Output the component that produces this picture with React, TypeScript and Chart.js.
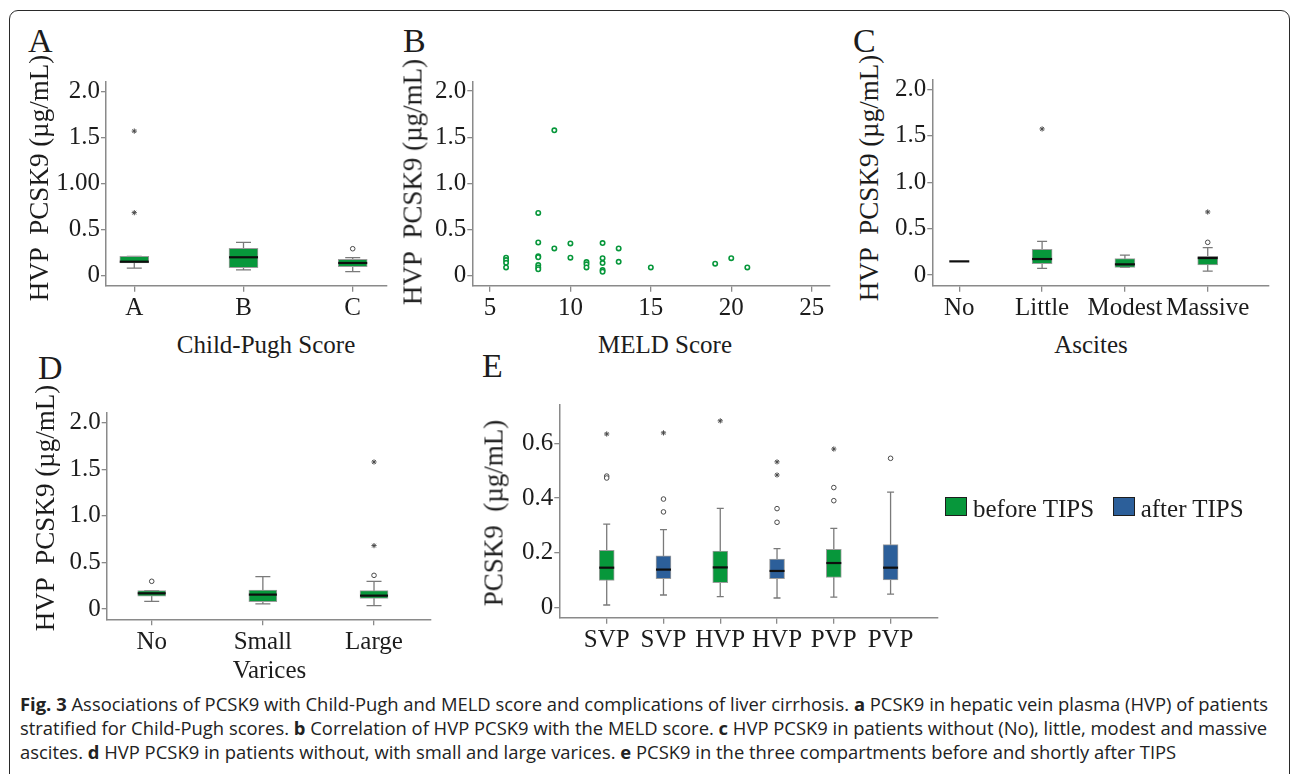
import React, { useEffect, useLayoutEffect, useRef, useState } from 'react';
import { Chart, registerables } from 'chart.js';
Chart.register(...registerables);

// ---------------- data ----------------
// Panel A: Child-Pugh score
const aCats = ['A', 'B', 'C'];
const aQ1 = [0.138, 0.087, 0.098];
const aMed = [0.152, 0.2, 0.138];
const aQ3 = [0.21, 0.297, 0.178];
const aLo = [0.083, 0.062, 0.043];
const aHi = [0.21, 0.362, 0.196];
const aCircles = [[3, 0.293]];
const aStars = [[1, 1.572], [1, 0.685]];
const aYTicks = [0, 0.5, 1, 1.5, 2];
const aYLabels = ['0', '0.5', '1.00', '1.5', '2.0'];

// Panel B: MELD score scatter
const bMeld = [6, 6, 6, 6, 8, 8, 8, 8, 8, 8, 8, 9, 9, 10, 10, 11, 11, 11, 12, 12, 12, 12, 12, 13, 13, 15, 19, 20, 21];
const bPcsk9 = [0.195, 0.17, 0.14, 0.09, 0.68, 0.36, 0.21, 0.2, 0.115, 0.09, 0.07, 1.574, 0.296, 0.35, 0.195, 0.148, 0.123, 0.09, 0.354, 0.19, 0.137, 0.061, 0.043, 0.296, 0.15, 0.09, 0.13, 0.19, 0.09];
const bXTicks = [5, 10, 15, 20, 25];
const bXLabels = ['5', '10', '15', '20', '25'];
const hvpYTicks = [0, 0.5, 1, 1.5, 2];
const hvpYLabels = ['0', '0.5', '1.0', '1.5', '2.0'];

// Panel C: Ascites
const cCats = ['No', 'Little', 'Modest', 'Massive'];
const cQ1 = [0.147, 0.122, 0.083, 0.108];
const cMed = [0.147, 0.172, 0.115, 0.183];
const cQ3 = [0.147, 0.276, 0.176, 0.201];
const cLo = [0.147, 0.072, 0.083, 0.043];
const cHi = [0.147, 0.363, 0.215, 0.294];
const cCircles = [[4, 0.352]];
const cStars = [[2, 1.573], [4, 0.679]];

// Panel D: Varices
const dCats = ['No', 'Small', 'Large'];
const dQ1 = [0.136, 0.079, 0.114];
const dMed = [0.168, 0.154, 0.143];
const dQ3 = [0.197, 0.204, 0.197];
const dLo = [0.082, 0.054, 0.036];
const dHi = [0.197, 0.347, 0.297];
const dCircles = [[1, 0.297], [3, 0.361]];
const dStars = [[3, 0.68], [3, 1.578]];

// Panel E: compartments before / after TIPS
const eCats = ['SVP', 'SVP', 'HVP', 'HVP', 'PVP', 'PVP'];
const eGroup = [0, 1, 0, 1, 0, 1];
const eQ1 = [0.098, 0.105, 0.09, 0.105, 0.109, 0.1];
const eMed = [0.145, 0.138, 0.146, 0.133, 0.162, 0.145];
const eQ3 = [0.2085, 0.188, 0.206, 0.176, 0.212, 0.229];
const eLo = [0.0085, 0.045, 0.039, 0.034, 0.037, 0.048];
const eHi = [0.304, 0.284, 0.362, 0.215, 0.289, 0.421];
const eCircles = [[1, 0.48], [1, 0.473], [2, 0.396], [2, 0.349], [4, 0.311], [4, 0.361], [5, 0.39], [5, 0.438], [6, 0.545]];
const eStars = [[1, 0.634], [2, 0.638], [3, 0.682], [4, 0.484], [4, 0.532], [5, 0.579]];
const eYTicks = [0, 0.2, 0.4, 0.6];
const eYLabels = ['0', '0.2', '0.4', '0.6'];
const legendLabels = ['before TIPS', 'after TIPS'];

// ---------------- styles ----------------
const SERIF = "'Liberation Serif', 'Times New Roman', Times, serif";
const SANS = "'Open Sans', 'Noto Sans', 'Liberation Sans', sans-serif";
const GREEN = '#07973B';
const BLUE = '#2C5F9A';
const GROUP_COLORS = [GREEN, BLUE];
const AXIS = '#8A8A8A';
const BOX_EDGE = '#9C9C9C';
const WHISKER = '#7A7A7A';
const OUT = '#4A4A4A';
const TEXT = '#1C1C1C';

type Geo = { canvas: number[]; area: number[] };
const GEO: Record<string, Geo> = {
  A: { canvas: [50, 60, 400, 330], area: [106, 81.7, 387, 285.7] },
  B: { canvas: [430, 60, 845, 330], area: [472.3, 81.7, 830, 285.7] },
  C: { canvas: [885, 58, 1285, 330], area: [932.3, 80, 1269, 285.7] },
  D: { canvas: [50, 390, 445, 660], area: [106.7, 412.7, 430.7, 619.3] },
  E: { canvas: [505, 383, 950, 660], area: [559.3, 405, 937.7, 617.7] },
};

const boxPlugin = {
  id: 'boxWhisker',
  beforeDatasetsDraw(chart: any) {
    const ctx = chart.ctx;
    const xs = chart.scales.x;
    const ys = chart.scales.y;
    chart.data.datasets.forEach((ds: any) => {
      if (!ds.stats) return;
      const { lo, hi, cap } = ds.stats;
      ctx.save();
      ctx.strokeStyle = WHISKER;
      ctx.lineWidth = 1.3;
      ds.data.forEach((pt: any, i: number) => {
        const x = xs.getPixelForValue(pt.x);
        const yl = ys.getPixelForValue(lo[i]);
        const yh = ys.getPixelForValue(hi[i]);
        if (Math.abs(yl - yh) < 0.5) return;
        ctx.beginPath();
        ctx.moveTo(x, yl);
        ctx.lineTo(x, yh);
        ctx.moveTo(x - cap / 2, yl);
        ctx.lineTo(x + cap / 2, yl);
        ctx.moveTo(x - cap / 2, yh);
        ctx.lineTo(x + cap / 2, yh);
        ctx.stroke();
      });
      ctx.restore();
    });
  },
  afterDatasetsDraw(chart: any) {
    const ctx = chart.ctx;
    const xs = chart.scales.x;
    const ys = chart.scales.y;
    chart.data.datasets.forEach((ds: any) => {
      if (!ds.stats) return;
      const { med, medW } = ds.stats;
      ctx.save();
      ctx.strokeStyle = '#0E0E0E';
      ctx.lineWidth = 2.2;
      ds.data.forEach((pt: any, i: number) => {
        const x = xs.getPixelForValue(pt.x);
        const y = ys.getPixelForValue(med[i]);
        ctx.beginPath();
        ctx.moveTo(x - medW / 2, y);
        ctx.lineTo(x + medW / 2, y);
        ctx.stroke();
      });
      ctx.restore();
    });
  },
};

function axis(min: number, max: number, ticks: number[], labels: string[], fit: number, isX: boolean) {
  return {
    type: 'linear',
    min,
    max,
    offset: false,
    afterBuildTicks: (s: any) => {
      s.ticks = ticks.map((v) => ({ value: v }));
    },
    afterFit: (s: any) => {
      if (isX) s.height = fit;
      else s.width = fit;
    },
    ticks: {
      autoSkip: false,
      maxRotation: 0,
      minRotation: 0,
      padding: isX ? 2 : 1,
      color: TEXT,
      font: { family: SERIF, size: 25 },
      callback: (_v: any, i: number) => labels[i],
    },
    grid: { drawOnChartArea: false, drawTicks: true, tickLength: isX ? 6 : 5, color: AXIS, lineWidth: 1.3, offset: false },
    border: { display: true, color: AXIS, width: 1.5 },
  };
}

function baseOptions(geo: Geo, xScale: any, yScale: any) {
  const [, ct, cr] = geo.canvas;
  const [, at, ar] = geo.area;
  return {
    responsive: false,
    animation: false,
    events: [],
    layout: { padding: { left: 0, top: at - ct, right: cr - ar, bottom: 0 } },
    plugins: { legend: { display: false }, tooltip: { enabled: false }, title: { display: false } },
    scales: { x: xScale, y: yScale },
  };
}

function outlierSets(circles: number[][], stars: number[][]) {
  return [
    {
      type: 'scatter',
      data: circles.map(([x, y]) => ({ x, y })),
      pointStyle: 'circle',
      pointRadius: 2.3,
      pointBorderWidth: 1,
      pointBorderColor: OUT,
      pointBackgroundColor: '#ffffff',
    },
    {
      type: 'scatter',
      data: stars.map(([x, y]) => ({ x, y })),
      pointStyle: 'star',
      pointRadius: 2.6,
      pointBorderWidth: 1,
      pointBorderColor: OUT,
      pointBackgroundColor: OUT,
    },
  ];
}

function boxConfig(p: any) {
  const geo: Geo = p.geo;
  const [cl, , , cb] = geo.canvas;
  const [al, , , ab] = geo.area;
  return {
    type: 'bar',
    data: {
      datasets: [
        {
          type: 'bar',
          data: p.cats.map((_c: string, i: number) => ({ x: i + 1, y: [p.q1[i], p.q3[i]] })),
          backgroundColor: p.colors,
          borderColor: BOX_EDGE,
          borderWidth: 1,
          borderSkipped: false,
          barThickness: p.barW,
          stats: { lo: p.lo, hi: p.hi, med: p.med, cap: p.capW, medW: p.barW },
        },
        ...outlierSets(p.circles, p.stars),
      ],
    },
    options: baseOptions(
      geo,
      axis(p.xMin, p.xMax, p.cats.map((_c: string, i: number) => i + 1), p.cats, cb - ab, true),
      axis(p.yMin, p.yMax, p.yTicks, p.yLabels, al - cl, false)
    ),
    plugins: [boxPlugin],
  };
}

function scatterConfig() {
  const geo = GEO.B;
  const [cl, , , cb] = geo.canvas;
  const [al, , , ab] = geo.area;
  return {
    type: 'scatter',
    data: {
      datasets: [
        {
          data: bMeld.map((x, i) => ({ x, y: bPcsk9[i] })),
          pointStyle: 'circle',
          pointRadius: 2.2,
          pointBorderWidth: 1.6,
          pointBorderColor: GREEN,
          pointBackgroundColor: '#ffffff',
        },
      ],
    },
    options: baseOptions(
      geo,
      axis(3.9, 26.14, bXTicks, bXLabels, cb - ab, true),
      axis(-0.108, 2.101, hvpYTicks, hvpYLabels, al - cl, false)
    ),
  };
}

function ChartCanvas({ geo, make }: { geo: Geo; make: () => any }) {
  const ref = useRef<HTMLCanvasElement | null>(null);
  useEffect(() => {
    if (!ref.current) return;
    const chart = new Chart(ref.current, make());
    return () => chart.destroy();
  }, []);
  const [l, t, r, b] = geo.canvas;
  return (
    <canvas
      ref={ref}
      width={r - l}
      height={b - t}
      style={{ position: 'absolute', left: l, top: t, width: r - l, height: b - t }}
    />
  );
}

function Label({ text, x, capTop, size, center }: { text: string; x: number; capTop: number; size: number; center?: boolean }) {
  return (
    <div
      style={{
        position: 'absolute',
        left: x,
        top: capTop - 0.1755 * size,
        fontFamily: SERIF,
        fontSize: size,
        lineHeight: `${size}px`,
        whiteSpace: 'pre',
        color: TEXT,
        transform: center ? 'translateX(-50%)' : undefined,
      }}
    >
      {text}
    </div>
  );
}

function VLabel({ text, cx, cy, size }: { text: string; cx: number; cy: number; size: number }) {
  return (
    <div
      style={{
        position: 'absolute',
        left: cx,
        top: cy,
        fontFamily: SERIF,
        fontSize: size,
        lineHeight: `${size}px`,
        whiteSpace: 'pre',
        color: TEXT,
        transform: 'translate(-50%, -50%) rotate(-90deg)',
      }}
    >
      {text}
    </div>
  );
}

const captionLines: { t: string; b?: boolean }[][] = [
  [
    { t: 'Fig. 3', b: true },
    { t: ' Associations of PCSK9 with Child-Pugh and MELD score and complications of liver cirrhosis. ' },
    { t: 'a', b: true },
    { t: ' PCSK9 in hepatic vein plasma (HVP) of patients' },
  ],
  [
    { t: 'stratified for Child-Pugh scores. ' },
    { t: 'b', b: true },
    { t: ' Correlation of HVP PCSK9 with the MELD score. ' },
    { t: 'c', b: true },
    { t: ' HVP PCSK9 in patients without (No), little, modest and massive' },
  ],
  [
    { t: 'ascites. ' },
    { t: 'd', b: true },
    { t: ' HVP PCSK9 in patients without, with small and large varices. ' },
    { t: 'e', b: true },
    { t: ' PCSK9 in the three compartments before and shortly after TIPS' },
  ],
];
const captionFirstLineWidth = 1248;

function Caption() {
  const ref = useRef<HTMLSpanElement | null>(null);
  const [scale, setScale] = useState(1);
  useLayoutEffect(() => {
    if (!ref.current) return;
    const w = ref.current.getBoundingClientRect().width;
    if (w > 0) setScale(captionFirstLineWidth / w);
  }, []);
  return (
    <>
      {captionLines.map((line, i) => (
        <div
          key={i}
          style={{
            position: 'absolute',
            left: 20,
            top: 692 + i * 24,
            height: 24,
            lineHeight: '24px',
            fontFamily: SANS,
            fontSize: 18,
            color: '#222',
            whiteSpace: 'pre',
            transform: `scaleX(${scale})`,
            transformOrigin: 'left top',
          }}
        >
          <span ref={i === 0 ? ref : undefined} style={{ display: 'inline-block' }}>
            {line.map((seg, j) => (
              <span key={j} style={{ fontWeight: seg.b ? 700 : 400 }}>{seg.t}</span>
            ))}
          </span>
        </div>
      ))}
    </>
  );
}

export default function App() {
  const hvpTitle = 'HVP  PCSK9 (µg/mL)';
  return (
    <div style={{ position: 'fixed', left: 0, top: 0, width: 1290, height: 774, overflow: 'hidden', background: '#fff' }}>
      <div
        style={{
          position: 'absolute',
          left: 8.5,
          top: 9.5,
          width: 1281,
          height: 800,
          border: '1.5px solid #2a2a2a',
          borderRadius: 9,
          boxSizing: 'border-box',
        }}
      />
      <ChartCanvas
        geo={GEO.A}
        make={() =>
          boxConfig({
            geo: GEO.A, cats: aCats, q1: aQ1, med: aMed, q3: aQ3, lo: aLo, hi: aHi,
            circles: aCircles, stars: aStars, colors: GREEN, barW: 29, capW: 15,
            xMin: 0.741, xMax: 3.314, yMin: -0.109, yMax: 2.109, yTicks: aYTicks, yLabels: aYLabels,
          })
        }
      />
      <ChartCanvas geo={GEO.B} make={scatterConfig} />
      <ChartCanvas
        geo={GEO.C}
        make={() =>
          boxConfig({
            geo: GEO.C, cats: cCats, q1: cQ1, med: cMed, q3: cQ3, lo: cLo, hi: cHi,
            circles: cCircles, stars: cStars, colors: GREEN, barW: 20, capW: 10,
            xMin: 0.674, xMax: 4.74, yMin: -0.115, yMax: 2.1, yTicks: hvpYTicks, yLabels: hvpYLabels,
          })
        }
      />
      <ChartCanvas
        geo={GEO.D}
        make={() =>
          boxConfig({
            geo: GEO.D, cats: dCats, q1: dQ1, med: dMed, q3: dQ3, lo: dLo, hi: dHi,
            circles: dCircles, stars: dStars, colors: GREEN, barW: 28, capW: 15,
            xMin: 0.595, xMax: 3.51, yMin: -0.111, yMax: 2.107, yTicks: hvpYTicks, yLabels: hvpYLabels,
          })
        }
      />
      <ChartCanvas
        geo={GEO.E}
        make={() =>
          boxConfig({
            geo: GEO.E, cats: eCats, q1: eQ1, med: eMed, q3: eQ3, lo: eLo, hi: eHi,
            circles: eCircles, stars: eStars, colors: eGroup.map((g) => GROUP_COLORS[g]), barW: 15, capW: 7,
            xMin: 0.165, xMax: 6.83, yMin: -0.038, yMax: 0.74, yTicks: eYTicks, yLabels: eYLabels,
          })
        }
      />

      {/* panel letters */}
      <Label text="A" x={28} capTop={30} size={34} />
      <Label text="B" x={403} capTop={29.5} size={34} />
      <Label text="C" x={853} capTop={30} size={34} />
      <Label text="D" x={38} capTop={356.5} size={34} />
      <Label text="E" x={482} capTop={355} size={34} />

      {/* y axis titles */}
      <VLabel text={hvpTitle} cx={39} cy={177.5} size={27} />
      <VLabel text={hvpTitle} cx={413.4} cy={181.5} size={27} />
      <VLabel text={hvpTitle} cx={869.3} cy={177.5} size={27} />
      <VLabel text={hvpTitle} cx={45} cy={508.3} size={27} />
      <VLabel text={'PCSK9  (µg/mL)'} cx={494.3} cy={513.3} size={27} />

      {/* x axis titles */}
      <Label text="Child-Pugh Score" x={266} capTop={336.7} size={25} center />
      <Label text="MELD Score" x={665} capTop={336} size={25} center />
      <Label text="Ascites" x={1091} capTop={336} size={25} center />
      <Label text="Varices" x={269.5} capTop={661.7} size={25} center />

      {/* legend for E */}
      {legendLabels.map((lab, i) => {
        const bx = i === 0 ? 945 : 1112.7;
        return (
          <React.Fragment key={lab}>
            <div
              style={{
                position: 'absolute',
                left: bx,
                top: 497.3,
                width: 22,
                height: 19,
                boxSizing: 'border-box',
                background: GROUP_COLORS[i],
                border: '1.5px solid #1e1e1e',
              }}
            />
            <Label text={lab} x={bx + 28} capTop={500.5} size={25} />
          </React.Fragment>
        );
      })}

      <Caption />
    </div>
  );
}
